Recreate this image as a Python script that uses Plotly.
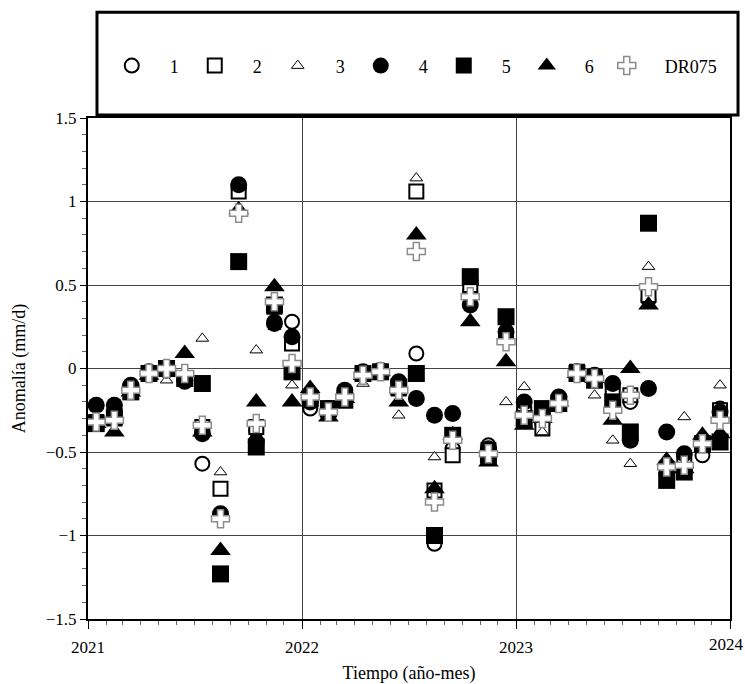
import plotly.graph_objects as go
import pandas as pd

# Monthly dates (mid-month), Jan 2021 - Dec 2023
dates = pd.date_range("2021-01-01", periods=36, freq="MS") + pd.Timedelta(days=14)

year_ticks = ["2021-01-01", "2022-01-01", "2023-01-01", "2024-01-01"]
year_labels = ["2021", "2022", "2023", "2024"]

s1 = [-0.22, -0.22, -0.12, -0.03, -0.01, -0.08, -0.57, -0.88, 1.08, -0.37, 0.28, 0.28,
      -0.24, -0.26, -0.15, -0.03, -0.01, -0.10, 0.09, -1.05, -0.48, 0.46, -0.46, 0.22,
      -0.25, -0.33, -0.19, -0.02, -0.05, -0.20, -0.20, 0.41, -0.62, -0.52, -0.52, -0.24]
s2 = [-0.32, -0.30, -0.13, -0.03, 0.00, -0.06, -0.35, -0.72, 1.06, -0.35, 0.37, 0.15,
      -0.19, -0.25, -0.16, -0.03, -0.02, -0.12, 1.06, -0.73, -0.52, 0.50, -0.49, 0.19,
      -0.27, -0.36, -0.20, -0.02, -0.05, -0.15, -0.16, 0.44, -0.60, -0.56, -0.46, -0.25]
s3 = [-0.30, -0.32, -0.13, -0.04, -0.07, -0.04, 0.18, -0.62, 0.93, 0.11, 0.25, -0.10,
      -0.14, -0.25, -0.17, -0.09, -0.02, -0.28, 1.14, -0.53, -0.38, 0.45, -0.50, -0.20,
      -0.11, -0.38, -0.20, -0.05, -0.16, -0.43, -0.57, 0.61, -0.60, -0.29, -0.45, -0.10]
s4 = [-0.22, -0.22, -0.10, -0.02, -0.01, -0.07, -0.39, -0.87, 1.10, -0.44, 0.27, 0.19,
      -0.20, -0.24, -0.13, -0.02, -0.01, -0.08, -0.18, -0.28, -0.27, 0.38, -0.48, 0.22,
      -0.20, -0.25, -0.17, -0.02, -0.04, -0.09, -0.43, -0.12, -0.38, -0.51, -0.44, -0.26]
s5 = [-0.33, -0.29, -0.14, -0.03, 0.00, -0.06, -0.09, -1.23, 0.64, -0.47, 0.38, -0.02,
      -0.18, -0.24, -0.19, -0.03, -0.02, -0.11, -0.03, -1.00, -0.40, 0.55, -0.52, 0.31,
      -0.30, -0.24, -0.21, -0.03, -0.07, -0.20, -0.38, 0.87, -0.67, -0.62, -0.45, -0.44]
s6 = [-0.33, -0.38, -0.14, -0.04, -0.01, 0.09, -0.38, -1.09, 0.95, -0.20, 0.49, -0.20,
      -0.12, -0.29, -0.18, -0.04, -0.02, -0.20, 0.80, -0.72, -0.40, 0.28, -0.56, 0.04,
      -0.34, -0.30, -0.20, -0.03, -0.06, -0.31, 0.00, 0.38, -0.55, -0.60, -0.40, -0.39]
dr075 = [-0.32, -0.31, -0.13, -0.03, 0.00, -0.03, -0.34, -0.90, 0.93, -0.33, 0.40, 0.03,
         -0.17, -0.26, -0.17, -0.04, -0.02, -0.13, 0.70, -0.80, -0.43, 0.43, -0.51, 0.16,
         -0.28, -0.30, -0.21, -0.03, -0.06, -0.25, -0.16, 0.49, -0.59, -0.58, -0.45, -0.31]

names = ["1", "2", "3", "4", "5", "6", "DR075"]
series = [s1, s2, s3, s4, s5, s6, dr075]
styles = [
    dict(symbol="circle", size=14, color="white", line=dict(color="black", width=2)),
    dict(symbol="square", size=14, color="white", line=dict(color="black", width=2)),
    dict(symbol="triangle-up", size=11, color="white", line=dict(color="black", width=1)),
    dict(symbol="circle", size=17, color="black", line=dict(color="black", width=0)),
    dict(symbol="square", size=17, color="black", line=dict(color="black", width=0)),
    dict(symbol="triangle-up", size=18, color="black", line=dict(color="black", width=0)),
    dict(symbol="cross", size=15, color="white", line=dict(color="#8c8c8c", width=1.5)),
]
legends = ["legend", "legend", "legend", "legend", "legend", "legend", "legend2"]

FONT = "Palatino Linotype, Book Antiqua, Palatino, Liberation Serif, serif"
NB = "\u00a0" * 4

fig = go.Figure()
for n, s, st, lg in zip(names, series, styles, legends):
    fig.add_trace(go.Scatter(x=dates, y=s, mode="markers", name=NB + n, marker=st, legend=lg))

# the last year label sits at the page edge: draw it as an annotation nudged inward
ticktext = year_labels[:-1] + [""]

fig.update_layout(
    width=745, height=684,
    margin=dict(l=88, r=15, t=118, b=65, autoexpand=False),
    plot_bgcolor="white", paper_bgcolor="white",
    font=dict(family=FONT, size=17, color="black"),
    showlegend=True,
    legend=dict(orientation="h", x=0.037, xanchor="left", y=1.104, yanchor="middle",
                bgcolor="rgba(0,0,0,0)", borderwidth=0, entrywidth=38,
                font=dict(family=FONT, size=18)),
    legend2=dict(orientation="h", x=0.808, xanchor="left", y=1.104, yanchor="middle",
                 bgcolor="rgba(0,0,0,0)", borderwidth=0,
                 font=dict(family=FONT, size=18)),
)
fig.update_xaxes(
    type="date", range=["2021-01-01", "2024-01-01"],
    tickvals=year_ticks, ticktext=ticktext,
    showgrid=True, gridcolor="#444", gridwidth=1,
    ticks="outside", ticklen=8, tickcolor="black",
    minor=dict(dtick="M1", tick0="2021-01-01", ticks="outside", ticklen=4,
               tickcolor="#666", showgrid=False),
    showline=True, linecolor="black", linewidth=2, mirror=True,
    title=dict(text="Tiempo (año-mes)", font=dict(size=18)),
    tickfont=dict(size=17), zeroline=False, automargin=False,
    ticklabeloverflow="allow", ticklabelstandoff=4,
)
fig.update_yaxes(
    range=[-1.5, 1.5], dtick=0.5, tick0=0,
    showgrid=True, gridcolor="#444", gridwidth=1,
    ticks="outside", ticklen=6, tickcolor="black",
    minor=dict(dtick=0.1, ticks="outside", ticklen=4, tickcolor="#666", showgrid=False),
    showline=True, linecolor="black", linewidth=2, mirror=True,
    title=dict(text="Anomalía (mm/d)", font=dict(size=18)),
    tickfont=dict(size=17), zeroline=False, automargin=False,
)
fig.add_annotation(x=year_ticks[-1], xref="x", y=0, yref="paper", text=year_labels[-1],
                   showarrow=False, xanchor="center", yanchor="top", xshift=-4, yshift=-14,
                   font=dict(family=FONT, size=17, color="black"))
# legend frame
fig.add_shape(type="rect", xref="paper", yref="paper",
              x0=0.014, x1=1.0125, y0=1.006, y1=1.211,
              line=dict(color="black", width=3), fillcolor="rgba(0,0,0,0)")
fig.write_html("out.html",
               config={"displayModeBar": False},
               post_script="document.body.style.margin='0px';"
                           "document.body.style.overflow='hidden';")
